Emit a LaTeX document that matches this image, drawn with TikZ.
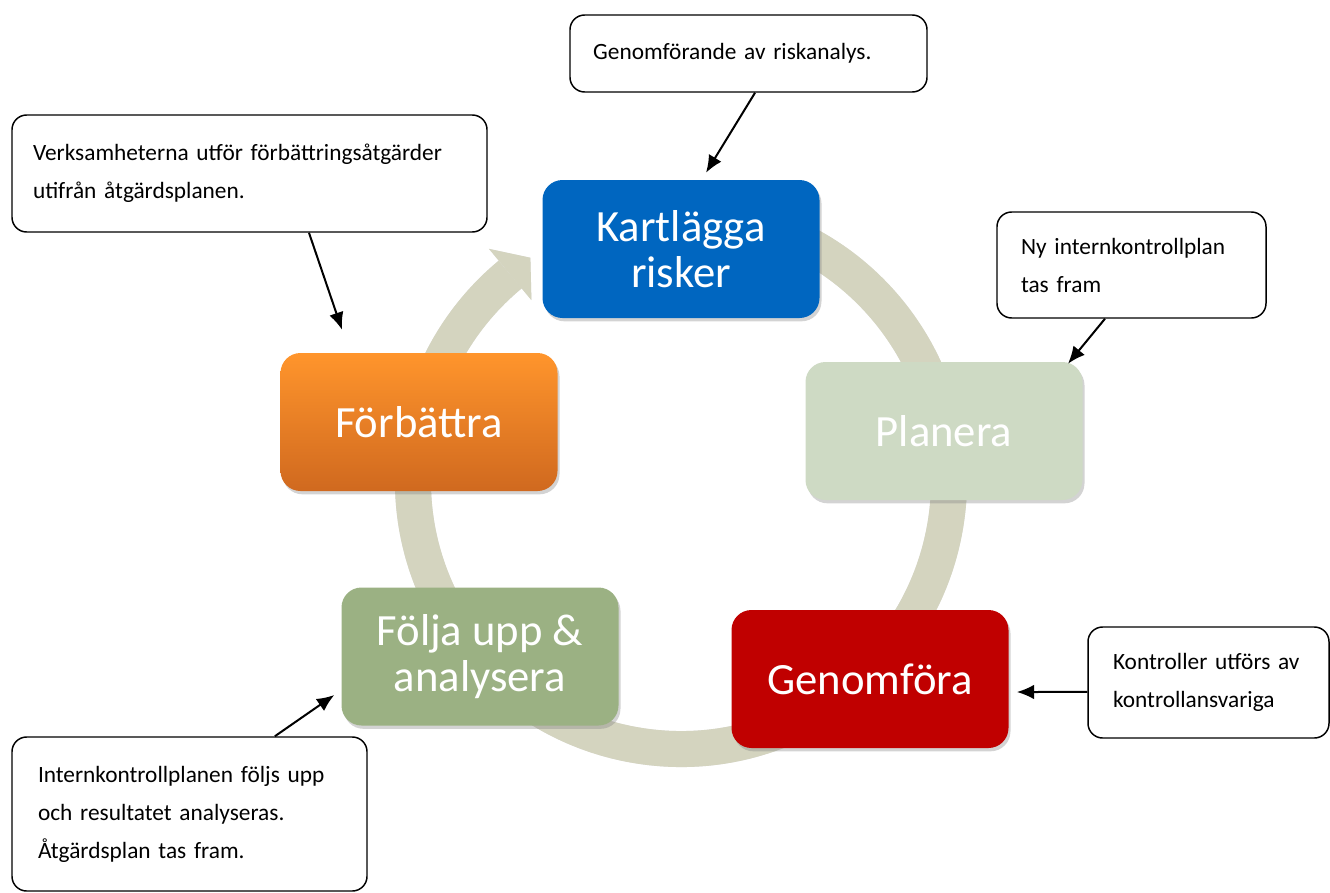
\documentclass[tikz,border=0pt]{standalone}
\usepackage{fontspec}
\setmainfont{Carlito}
\usetikzlibrary{arrows.meta,shadows,calc}
\definecolor{kblue}{RGB}{0,102,192}
\definecolor{pgreen}{RGB}{206,218,196}
\definecolor{otop}{RGB}{255,149,44}
\definecolor{obot}{RGB}{208,105,31}
\definecolor{gred}{RGB}{192,0,0}
\definecolor{ugreen}{RGB}{155,177,131}
\definecolor{ringc}{RGB}{212,212,191}
\begin{document}
\begin{tikzpicture}[x=0.75pt,y=0.75pt,
  stage/.style={rounded corners=15pt, minimum width=207.75pt, minimum height=103.5pt,
    inner sep=0pt, text=white, align=center, font=\fontsize{33.5}{35}\selectfont,
    drop shadow={shadow xshift=1.5pt, shadow yshift=-2.5pt, opacity=0.35}},
  note/.style={draw=black, line width=1.1pt, rounded corners=11pt, fill=white,
    align=left, font=\fontsize{17.5}{28.5}\selectfont, inner ysep=0pt},
  conn/.style={-{Latex[length=13pt,width=11pt]}, line width=1.5pt}
]
\useasboundingbox (0,0) rectangle (1330,-892);
\coordinate (O) at (681,-481);
% ring shadow
\begin{scope}[opacity=0.22, shift={(1.5pt,-2.5pt)}]
\draw[gray, line width=27pt] ($(O)+(80:201pt)$) arc[start angle=80, end angle=-230.4, radius=201pt];
\fill[gray] ($(O)+(129.6:176pt)$) -- ($(O)+(129.6:226pt)$) -- ($(O)+(124:202pt)$) -- cycle;
\end{scope}
% ring
\draw[ringc, line width=27pt] ($(O)+(80:201pt)$) arc[start angle=80, end angle=-230.4, radius=201pt];
\fill[ringc] ($(O)+(129.6:176pt)$) -- ($(O)+(129.6:226pt)$) -- ($(O)+(124:202pt)$) -- cycle;

% stages
\node[stage, fill=kblue] (k) at (681,-249) {Kartlägga\\risker};
\node[stage, fill=pgreen] (p) at (944,-431) {Planera};
\node[stage, top color=otop, bottom color=obot] (f) at (419,-422) {Förbättra};
\node[stage, fill=gred] (g) at (870,-679) {Genomföra};
\node[stage, fill=ugreen] (u) at (480,-656.5) {Följa upp \&\\analysera};

% notes
\node[note, minimum width=267.75pt, minimum height=57.75pt, text width=233pt, inner xsep=17.25pt] (c1) at (748.5,-53.5) {Genomförande av riskanalys.};
\node[note, minimum width=356.25pt, minimum height=87.75pt, text width=324.75pt, inner xsep=15.75pt] (c2) at (249.5,-173.5) {Verksamheterna utför förbättringsåtgärder\\utifrån åtgärdsplanen.};
\node[note, minimum width=201.75pt, minimum height=79.5pt, text width=165.75pt, inner xsep=18pt] (c3) at (1131.5,-265) {Ny internkontrollplan\\tas fram};
\node[note, minimum width=180.75pt, minimum height=83.25pt, text width=143.25pt, inner xsep=18.75pt] (c4) at (1208.5,-682.5) {Kontroller utförs av\\kontrollansvariga};
\node[note, minimum width=266.25pt, minimum height=115.5pt, text width=227.25pt, inner xsep=19.5pt] (c5) at (189.5,-814) {Internkontrollplanen följs upp\\och resultatet analyseras.\\Åtgärdsplan tas fram.};

% connectors
\draw[conn] ([xshift=4.9pt]c1.south) -- ([xshift=18.75pt,yshift=5.25pt]k.north);
\draw[conn] ([xshift=44.6pt]c2.south) -- ([xshift=-57.75pt,yshift=17.25pt]f.north);
\draw[conn] ([xshift=-19.9pt]c3.south) -- ([xshift=93pt,yshift=-1.5pt]p.north);
\draw[conn] ([yshift=-7.1pt]c4.west) -- ([xshift=6pt,yshift=-9.75pt]g.east);
\draw[conn] ([xshift=64pt]c5.north) -- ([xshift=-5.25pt,yshift=-28.9pt]u.west);
\end{tikzpicture}
\end{document}
